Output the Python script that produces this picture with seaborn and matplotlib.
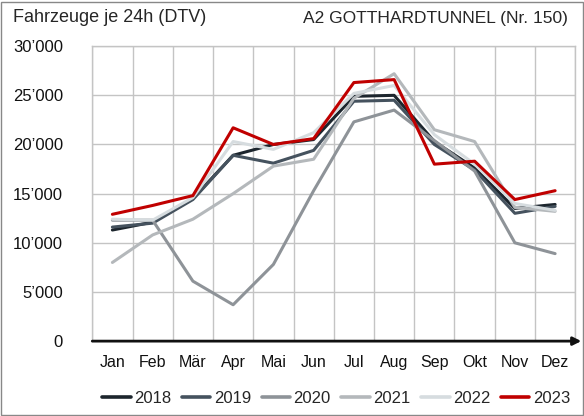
import pandas as pd
import numpy as np
import matplotlib
matplotlib.use("Agg")
import matplotlib.pyplot as plt
import seaborn as sns
from matplotlib.patches import Rectangle
from matplotlib.ticker import FuncFormatter, MultipleLocator

months = ["Jan", "Feb", "Mär", "Apr", "Mai", "Jun", "Jul", "Aug", "Sep", "Okt", "Nov", "Dez"]
years = ["2018", "2019", "2020", "2021", "2022", "2023"]

dtv_2018 = [11300, 12100, 14500, 18900, 20000, 20500, 24900, 25000, 20300, 17600, 13500, 13900]
dtv_2019 = [11600, 12000, 14400, 18900, 18100, 19400, 24400, 24500, 20000, 17400, 13000, 13700]
dtv_2020 = [12300, 12300, 6100, 3700, 7800, 15300, 22300, 23500, 20400, 17300, 10000, 8900]
dtv_2021 = [8000, 10800, 12400, 15000, 17800, 18500, 24700, 27200, 21500, 20300, 13600, 13200]
dtv_2022 = [12400, 12300, 14600, 20300, 19500, 21200, 25200, 26000, 21000, 18000, 14000, 13300]
dtv_2023 = [12900, 13800, 14800, 21700, 20000, 20600, 26300, 26600, 18000, 18300, 14400, 15300]

colors = ["#1c252d", "#45525e", "#8e9398", "#b4b8bb", "#d6dcdf", "#c00000"]

series = [dtv_2018, dtv_2019, dtv_2020, dtv_2021, dtv_2022, dtv_2023]
df = pd.concat([
    pd.DataFrame({"month": np.arange(12), "dtv": vals, "year": yr})
    for yr, vals in zip(years, series)
])

sns.set_style("white")
plt.rcParams["font.family"] = ["Liberation Sans", "DejaVu Sans"]

fig = plt.figure(figsize=(5.84, 4.16), dpi=100)
ax = fig.add_axes([0.158, 0.180, 0.827, 0.709])

sns.lineplot(data=df, x="month", y="dtv", hue="year", palette=colors,
             linewidth=2.2, ax=ax, legend=True)

ax.set_xlim(-0.5, 11.5)
ax.set_ylim(0, 30000)
ax.set_xticks(np.arange(12))
ax.set_xticklabels(months)
ax.xaxis.set_minor_locator(MultipleLocator(1, offset=0.5))
ax.yaxis.set_major_locator(MultipleLocator(5000))
ax.yaxis.set_major_formatter(FuncFormatter(lambda v, p: "0" if v == 0 else f"{int(v):,}".replace(",", "’")))
ax.grid(True, which="minor", axis="x", color="#c4c4c4", linewidth=1)
ax.grid(True, which="major", axis="y", color="#c4c4c4", linewidth=1)
ax.tick_params(which="both", length=0, colors="#111111")
ax.tick_params(axis="x", pad=10, labelsize=11.5)
ax.tick_params(axis="y", pad=21, labelsize=12)
ax.set_xlabel("")
ax.set_ylabel("")
for side in ["top", "right", "left"]:
    ax.spines[side].set_color("#c4c4c4")
    ax.spines[side].set_linewidth(1)
ax.spines["bottom"].set_visible(False)

# black x axis with arrow
ax.annotate("", xy=(11.65, 0), xytext=(-0.5, 0), xycoords="data",
            arrowprops=dict(arrowstyle="-|>", color="#111111", lw=2, mutation_scale=12,
                            shrinkA=0, shrinkB=0),
            annotation_clip=False)

handles, labels = ax.get_legend_handles_labels()
for h in handles:
    h.set_linewidth(2.6)
ax.legend(handles, labels, loc="center", bbox_to_anchor=(0.505, -0.195), ncol=6,
          frameon=False, fontsize=12, handlelength=1.7, handletextpad=0.2, columnspacing=0.65)

fig.text(0.022, 0.958, "Fahrzeuge je 24h (DTV)", fontsize=13, va="center", ha="left")
fig.text(0.973, 0.956, "A2 GOTTHARDTUNNEL (Nr. 150)", fontsize=12.5, va="center", ha="right")

fig.patches.append(Rectangle((0.002, 0.002), 0.996, 0.994, transform=fig.transFigure,
                             fill=False, edgecolor="#888888", linewidth=1))

fig.savefig("out.png", dpi=100)
